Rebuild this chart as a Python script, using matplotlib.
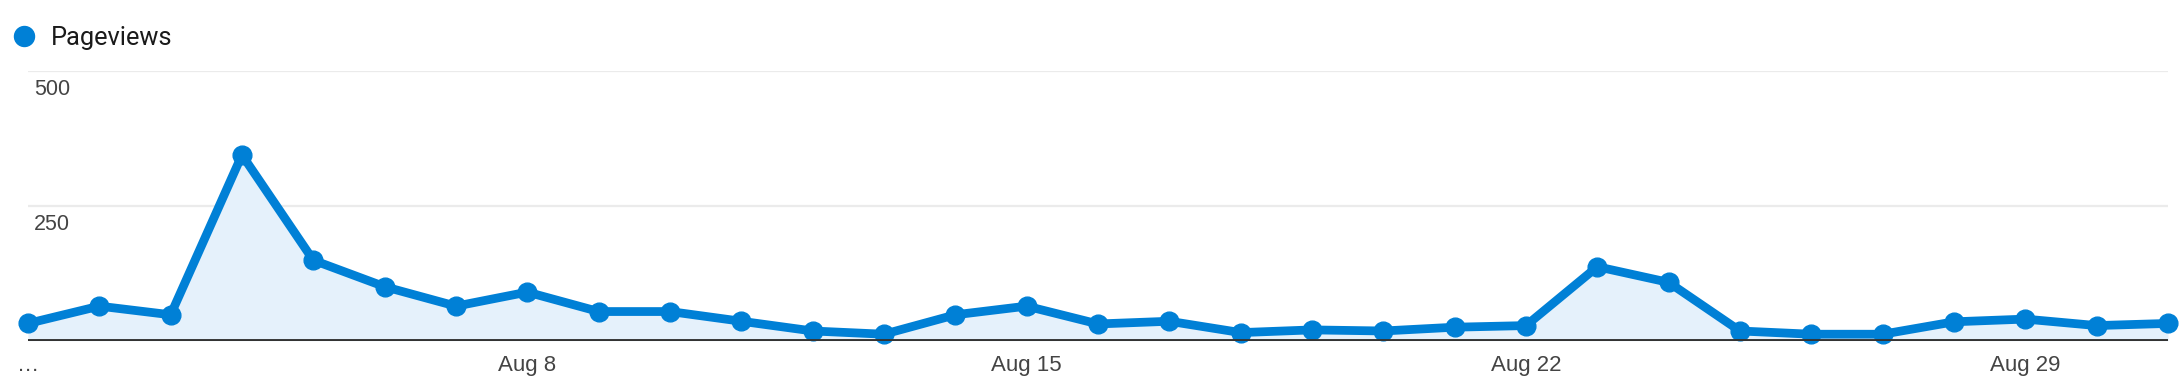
import numpy as np
import matplotlib.pyplot as plt
from matplotlib.lines import Line2D
from matplotlib.transforms import blended_transform_factory

# Daily pageviews, Aug 1 .. Aug 31
days = np.arange(1, 32)
pageviews = [32, 64, 48, 344, 149, 100, 64, 90, 54, 54,
             36, 18, 12, 48, 64, 31, 36, 15, 20, 18,
             25, 28, 137, 108, 18, 12, 12, 35, 40, 28, 32]
tick_days = [1, 8, 15, 22, 29]
tick_labels = ["\u2026", "Aug 8", "Aug 15", "Aug 22", "Aug 29"]
y_ticks = [250, 500]
series_name = "Pageviews"

blue = "#0080d6"
fill_blue = "#e5f1fb"

W, H = 2182, 380
fig = plt.figure(figsize=(W / 100, H / 100), dpi=100)
ax = fig.add_axes([28 / W, (H - 340.7) / H, (2168 - 28) / W, (340.7 - 70.7) / H])

ax.fill_between(days, pageviews, 0, color=fill_blue, lw=0, zorder=1)
ax.plot(days, pageviews, color=blue, lw=6.3, marker="o", markersize=13.5,
        clip_on=False, zorder=3, solid_joinstyle="round")

ax.set_xlim(days[0], days[-1])
ax.set_ylim(0, 500)

# grid
for yv in y_ticks:
    ax.axhline(yv, color="#ebebeb", lw=1.6, zorder=0)
ax.axhline(0, color="#333333", lw=2.8, zorder=4)

for s in ax.spines.values():
    s.set_visible(False)
ax.set_yticks([])

# y labels sit inside the plot, under their gridlines
trans = blended_transform_factory(ax.transAxes, ax.transData)
for yv in y_ticks:
    ax.text(6 / (2168 - 28), yv - 15, str(yv), transform=trans,
            ha="left", va="top", fontsize=15.5, color="#444444",
            family="Liberation Sans")

ax.set_xticks(tick_days)
ax.set_xticklabels(tick_labels, fontsize=16, color="#444444",
                   family="Liberation Sans")
ax.tick_params(axis="x", length=0, pad=10)

# legend: dot + label at top left
fig.add_artist(Line2D([24 / W], [1 - 35.5 / H], marker="o", linestyle="none",
                      color=blue, markersize=14.4, transform=fig.transFigure))
fig.text(51 / W, 1 - 35.5 / H, series_name, ha="left", va="center_baseline",
         fontsize=18.3, family="Roboto", color="#1a1a1a")

fig.savefig("out.png", dpi=100, facecolor="white")
